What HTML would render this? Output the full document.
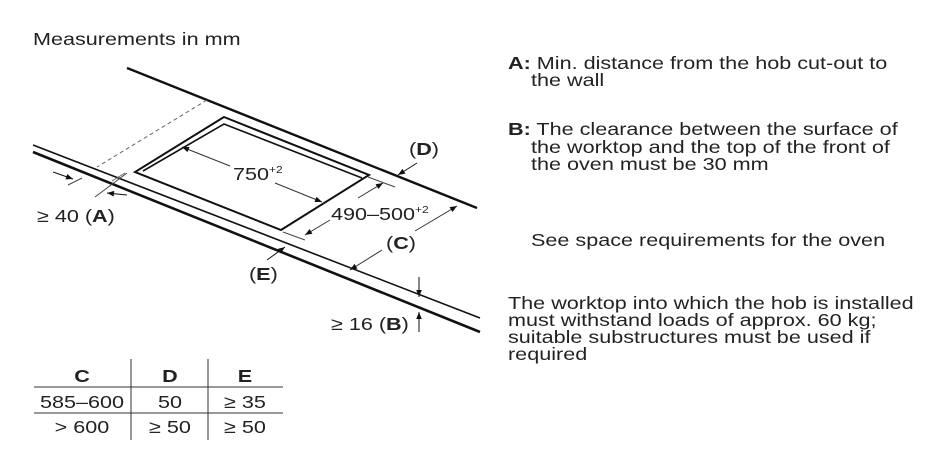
<!DOCTYPE html>
<html><head><meta charset="utf-8"><style>
html,body{margin:0;padding:0;background:#fff}
svg{display:block}
text{font-family:"Liberation Sans",sans-serif;fill:#222;transform-box:fill-box;transform-origin:left center;transform:scaleX(1.2)}
.c text{transform-origin:center center}
</style></head><body>
<svg width="933" height="458" viewBox="0 0 933 458" xmlns="http://www.w3.org/2000/svg">
<defs>
<marker id="a" viewBox="0 0 10 10" refX="10" refY="5" markerWidth="9" markerHeight="7" orient="auto-start-reverse" markerUnits="userSpaceOnUse"><path d="M0,1 L10,5 L0,9 z" fill="#111"/></marker>
</defs>
<text x="33" y="45" font-size="18">Measurements in mm</text>
<line x1="127" y1="68" x2="477" y2="208" stroke="#111" stroke-width="2.4"/>
<line x1="33" y1="145" x2="480" y2="318" stroke="#111" stroke-width="1.6"/>
<line x1="33" y1="152" x2="480" y2="332" stroke="#111" stroke-width="2.6"/>
<line x1="207" y1="100" x2="97" y2="167" stroke="#666" stroke-width="1" stroke-dasharray="4,3"/>
<line x1="125" y1="173" x2="112" y2="181" stroke="#666" stroke-width="1"/>
<polygon points="224,117 369,175 281,230 135,172" fill="none" stroke="#111" stroke-width="2"/>
<polyline points="143,171 224,124 362,178" fill="none" stroke="#111" stroke-width="1.6"/>
<line x1="68" y1="185" x2="82" y2="178" stroke="#444" stroke-width="1"/>
<line x1="95" y1="197" x2="127" y2="173" stroke="#444" stroke-width="1"/>
<line x1="53" y1="172" x2="73" y2="179" stroke="#111" stroke-width="1" marker-end="url(#a)"/>
<line x1="127" y1="195" x2="107" y2="193" stroke="#111" stroke-width="1" marker-end="url(#a)"/>
<text x="37" y="222" font-size="18">≥ 40 (<tspan font-weight="bold">A</tspan>)</text>
<line x1="182" y1="147" x2="230" y2="166" stroke="#333" stroke-width="1" marker-start="url(#a)"/>
<line x1="275" y1="183" x2="322" y2="202" stroke="#333" stroke-width="1" marker-end="url(#a)"/>
<text x="233" y="180" font-size="18">750<tspan font-size="10" dy="-7">+2</tspan></text>
<line x1="368" y1="177" x2="395" y2="187" stroke="#444" stroke-width="1"/>
<line x1="283" y1="232" x2="305" y2="240" stroke="#444" stroke-width="1"/>
<line x1="383" y1="183" x2="358" y2="198" stroke="#333" stroke-width="1" marker-start="url(#a)"/>
<line x1="330" y1="220" x2="305" y2="235" stroke="#333" stroke-width="1" marker-end="url(#a)"/>
<text x="331" y="220" font-size="18">490–500<tspan font-size="10" dy="-7">+2</tspan></text>
<text x="409" y="155" font-size="18">(<tspan font-weight="bold">D</tspan>)</text>
<line x1="417" y1="163" x2="398" y2="175" stroke="#111" stroke-width="1" marker-end="url(#a)"/>
<line x1="457" y1="206" x2="415" y2="231" stroke="#333" stroke-width="1" marker-start="url(#a)"/>
<line x1="382" y1="250" x2="350" y2="270" stroke="#333" stroke-width="1" marker-end="url(#a)"/>
<text x="386" y="249" font-size="18">(<tspan font-weight="bold">C</tspan>)</text>
<text x="249" y="280" font-size="18">(<tspan font-weight="bold">E</tspan>)</text>
<line x1="267" y1="260" x2="285" y2="247" stroke="#111" stroke-width="1" marker-end="url(#a)"/>
<line x1="419" y1="277" x2="419" y2="297" stroke="#111" stroke-width="1" marker-end="url(#a)"/>
<line x1="419" y1="332" x2="419" y2="312" stroke="#111" stroke-width="1" marker-end="url(#a)"/>
<text x="331" y="330" font-size="18">≥ 16 (<tspan font-weight="bold">B</tspan>)</text>
<line x1="34" y1="387" x2="283" y2="387" stroke="#333" stroke-width="1"/>
<line x1="34" y1="413" x2="283" y2="413" stroke="#333" stroke-width="1"/>
<line x1="131" y1="359" x2="131" y2="440" stroke="#333" stroke-width="1"/>
<line x1="208" y1="359" x2="208" y2="440" stroke="#333" stroke-width="1"/>
<g class="c" font-size="18" text-anchor="middle">
<text x="82" y="382" font-weight="bold">C</text><text x="170" y="382" font-weight="bold">D</text><text x="245" y="382" font-weight="bold">E</text>
<text x="82" y="408">585–600</text><text x="170" y="408">50</text><text x="245" y="408">≥ 35</text>
<text x="82" y="433">&gt; 600</text><text x="170" y="433">≥ 50</text><text x="245" y="433">≥ 50</text>
</g>
<g font-size="18">
<text x="508" y="69"><tspan font-weight="bold">A:</tspan> Min. distance from the hob cut-out to</text>
<text x="531" y="86">the wall</text>
<text x="508" y="135"><tspan font-weight="bold">B:</tspan> The clearance between the surface of</text>
<text x="531" y="153">the worktop and the top of the front of</text>
<text x="531" y="170">the oven must be 30 mm</text>
<text x="531" y="246">See space requirements for the oven</text>
<text x="508" y="309">The worktop into which the hob is installed</text>
<text x="508" y="326">must withstand loads of approx. 60 kg;</text>
<text x="508" y="343">suitable substructures must be used if</text>
<text x="508" y="360">required</text>
</g>
</svg>
</body></html>
